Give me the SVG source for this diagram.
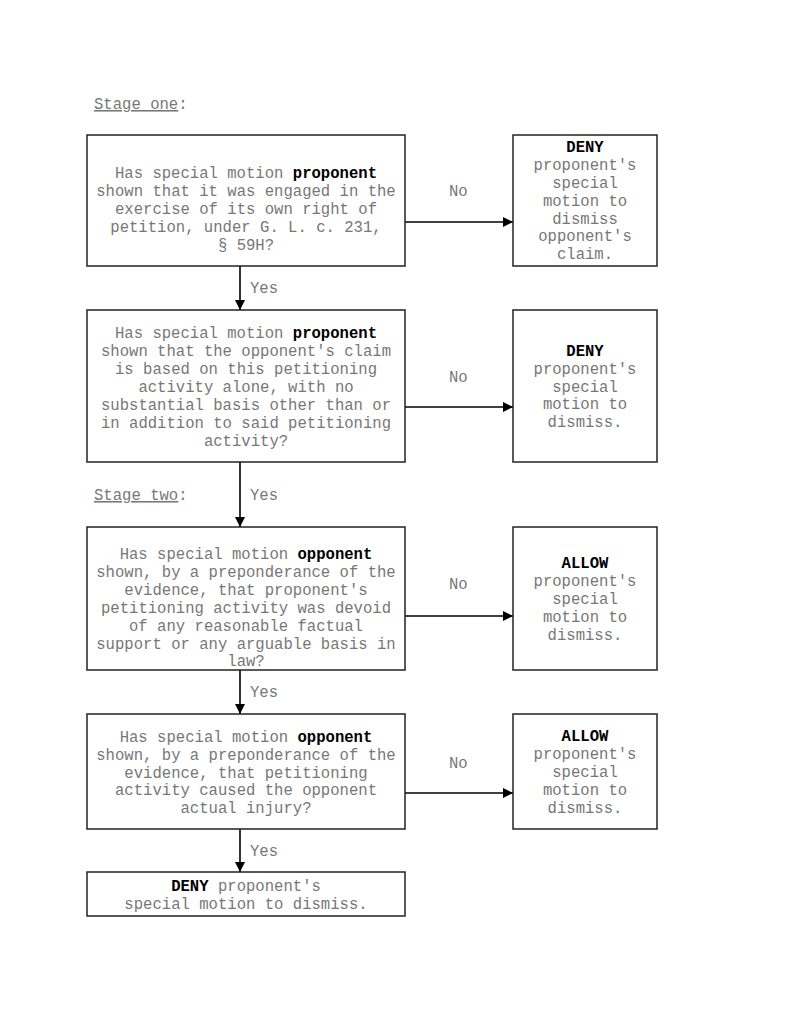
<svg xmlns="http://www.w3.org/2000/svg" width="800" height="1035" viewBox="0 0 800 1035">
<style>
.box{fill:#fff;stroke:#222;stroke-width:1.5}
.t{font-family:"Liberation Mono","Courier New",monospace;font-size:15.6px;fill:#777;text-anchor:middle}
.l{font-family:"Liberation Mono","Courier New",monospace;font-size:15.6px;fill:#777}
.b{font-weight:bold;fill:#000}
.c{stroke:#000;stroke-width:1.6;fill:none;marker-end:url(#ah)}
</style>
<defs>
<marker id="ah" viewBox="0 0 10 10" refX="10" refY="5" markerWidth="10" markerHeight="10" markerUnits="userSpaceOnUse" orient="auto">
<path d="M0,0 L10,5 L0,10 z" fill="#000"/>
</marker>
</defs>
<rect width="800" height="1035" fill="#fff"/>
<g id="stage-one"><text class="l" x="94" y="109"><tspan text-decoration="underline">Stage one</tspan>:</text></g>
<g id="stage-two"><text class="l" x="94" y="500"><tspan text-decoration="underline">Stage two</tspan>:</text></g>

<g id="connectors">
<path class="c" d="M405,222 H513"/>
<path class="c" d="M240,266 V310"/>
<path class="c" d="M405,407 H513"/>
<path class="c" d="M240,462 V527"/>
<path class="c" d="M405,616 H513"/>
<path class="c" d="M240,670 V714"/>
<path class="c" d="M405,793 H513"/>
<path class="c" d="M240,829 V872"/>
<text class="l" x="449" y="196">No</text>
<text class="l" x="250" y="293">Yes</text>
<text class="l" x="449" y="382">No</text>
<text class="l" x="250" y="500">Yes</text>
<text class="l" x="449" y="589">No</text>
<text class="l" x="250" y="697">Yes</text>
<text class="l" x="449" y="768">No</text>
<text class="l" x="250" y="856">Yes</text>
</g>

<g id="q1">
<rect class="box" x="87" y="135" width="318" height="131"/>
<text class="t" x="246" y="178">Has special motion <tspan class="b">proponent</tspan></text>
<text class="t" x="246" y="196">shown that it was engaged in the</text>
<text class="t" x="246" y="214">exercise of its own right of</text>
<text class="t" x="246" y="232">petition, under G. L. c. 231,</text>
<text class="t" x="246" y="250">§ 59H?</text>
</g>
<g id="r1">
<rect class="box" x="513" y="135" width="144" height="131"/>
<text class="t" x="585" y="152"><tspan class="b">DENY</tspan></text>
<text class="t" x="585" y="170">proponent's</text>
<text class="t" x="585" y="188">special</text>
<text class="t" x="585" y="206">motion to</text>
<text class="t" x="585" y="224">dismiss</text>
<text class="t" x="585" y="241">opponent's</text>
<text class="t" x="585" y="259">claim.</text>
</g>

<g id="q2">
<rect class="box" x="87" y="310" width="318" height="152"/>
<text class="t" x="246" y="338">Has special motion <tspan class="b">proponent</tspan></text>
<text class="t" x="246" y="356">shown that the opponent's claim</text>
<text class="t" x="246" y="374">is based on this petitioning</text>
<text class="t" x="246" y="392">activity alone, with no</text>
<text class="t" x="246" y="410">substantial basis other than or</text>
<text class="t" x="246" y="428">in addition to said petitioning</text>
<text class="t" x="246" y="446">activity?</text>
</g>
<g id="r2">
<rect class="box" x="513" y="310" width="144" height="152"/>
<text class="t" x="585" y="356"><tspan class="b">DENY</tspan></text>
<text class="t" x="585" y="374">proponent's</text>
<text class="t" x="585" y="392">special</text>
<text class="t" x="585" y="409">motion to</text>
<text class="t" x="585" y="427">dismiss.</text>
</g>

<g id="q3">
<rect class="box" x="87" y="527" width="318" height="143"/>
<text class="t" x="246" y="559">Has special motion <tspan class="b">opponent</tspan></text>
<text class="t" x="246" y="577">shown, by a preponderance of the</text>
<text class="t" x="246" y="595">evidence, that proponent's</text>
<text class="t" x="246" y="613">petitioning activity was devoid</text>
<text class="t" x="246" y="631">of any reasonable factual</text>
<text class="t" x="246" y="649">support or any arguable basis in</text>
<text class="t" x="246" y="666">law?</text>
</g>
<g id="r3">
<rect class="box" x="513" y="527" width="144" height="143"/>
<text class="t" x="585" y="568"><tspan class="b">ALLOW</tspan></text>
<text class="t" x="585" y="586">proponent's</text>
<text class="t" x="585" y="604">special</text>
<text class="t" x="585" y="622">motion to</text>
<text class="t" x="585" y="640">dismiss.</text>
</g>

<g id="q4">
<rect class="box" x="87" y="714" width="318" height="115"/>
<text class="t" x="246" y="742">Has special motion <tspan class="b">opponent</tspan></text>
<text class="t" x="246" y="760">shown, by a preponderance of the</text>
<text class="t" x="246" y="778">evidence, that petitioning</text>
<text class="t" x="246" y="795">activity caused the opponent</text>
<text class="t" x="246" y="813">actual injury?</text>
</g>
<g id="r4">
<rect class="box" x="513" y="714" width="144" height="115"/>
<text class="t" x="585" y="741"><tspan class="b">ALLOW</tspan></text>
<text class="t" x="585" y="759">proponent's</text>
<text class="t" x="585" y="777">special</text>
<text class="t" x="585" y="795">motion to</text>
<text class="t" x="585" y="813">dismiss.</text>
</g>

<g id="final">
<rect class="box" x="87" y="872" width="318" height="44"/>
<text class="t" x="246" y="891"><tspan class="b">DENY</tspan> proponent's</text>
<text class="t" x="246" y="909">special motion to dismiss.</text>
</g>
</svg>
